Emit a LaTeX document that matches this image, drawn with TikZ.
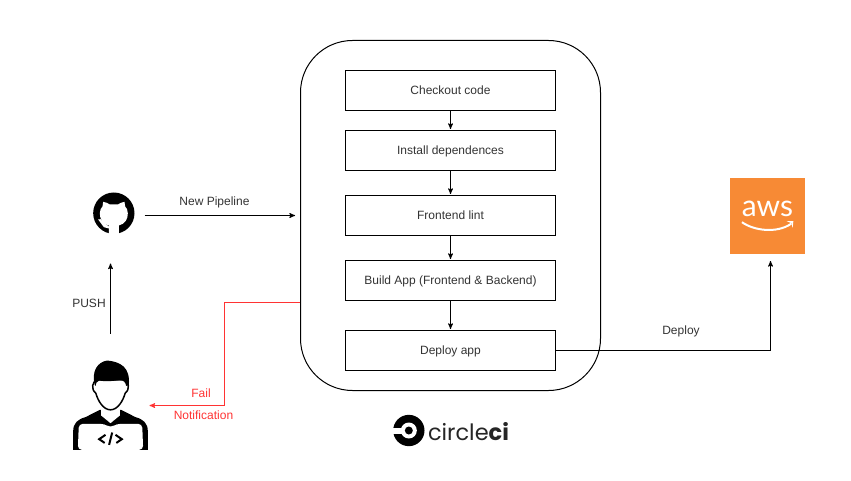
\documentclass[tikz,border=0pt]{standalone}
\usepackage{fontspec}
\setmainfont{Liberation Sans}
\newfontfamily\logofont{Poppins}
\newfontfamily\awsfont{Lato}
\usepackage{tikz}
\usetikzlibrary{arrows,calc}
\definecolor{labelgray}{HTML}{333333}
\definecolor{failred}{HTML}{FF3333}
\definecolor{awsorange}{HTML}{F78A35}

\begin{document}
\begin{tikzpicture}[>=stealth',shorten >=1pt,x=1pt,y=-1pt,line width=1pt,
  font=\fontsize{12}{14}\selectfont,text=labelgray,
  step node/.style={draw=black,minimum width=210pt,minimum height=40pt,inner sep=0pt,text height=9.5pt,text depth=1.7pt},
  logo node/.style={inner sep=0pt,outer sep=0pt},
  edge label/.style={inner sep=0pt},
  fail label/.style={inner sep=0pt,text=failred}]

  \useasboundingbox (-0.5,-0.5) rectangle (850.5,480.5);

  % pipeline
  \node[draw=black,rounded corners=52pt,minimum width=300pt,minimum height=350pt] (orb) at (450,215) {};
  \node[step node] (checkout) at (450,90) {Checkout code};
  \node[step node] (install) at (450,150) {Install dependences};
  \node[step node] (lint) at (450,215) {Frontend lint};
  \node[step node] (build) at (450,280) {Build App (Frontend \& Backend)};
  \node[step node] (deploy) at (450,350) {Deploy app};

  % logos
  \node[logo node,minimum width=63pt,minimum height=48pt] (github) at (112.5,215) {};
  \node[logo node,minimum width=76pt,minimum height=124pt] (person) at (110,395) {};
  \node[logo node,fill=awsorange,minimum size=75pt] (aws) at (767,215.5) {};

  \begin{scope}[shift={(60,170)},scale=1/3]
    \fill[black] (160,128) circle (62);
    \fill[white] (145,192) -- (145,165) .. controls (125,160) and (118,145) .. (118,128)
      .. controls (118,118) and (122,112) .. (126,108) -- (128,94)
      .. controls (136,95) and (142,98) .. (148,102) -- (172,102)
      .. controls (178,98) and (184,95) .. (192,94) -- (194,108)
      .. controls (198,112) and (202,118) .. (202,128)
      .. controls (202,145) and (195,160) .. (175,165) -- (175,192) -- cycle;
    \fill[white] (113,147) -- (120,146) -- (145,168) -- (145,174) -- (130,170) -- cycle;
  \end{scope}

  \begin{scope}[shift={(60,340)},scale=1/3]
    % body and laptop
    \fill[black] (38,328) -- (38,272) .. controls (38,248) and (52,236) .. (75,230) -- (118,208)
      -- (182,208) -- (225,230) .. controls (248,236) and (262,248) .. (262,272) -- (262,328) -- cycle;
    \fill[white] (122,200) -- (122,225) -- (150,248) -- (178,225) -- (178,200) -- cycle;
    \fill[white,rounded corners=4pt] (52,328) -- (55,250) -- (132,250) -- (150,262) -- (168,250) -- (245,250) -- (248,328) -- cycle;
    % face
    \draw[fill=white,line width=1.5pt] (108,118) .. controls (96,125) and (90,145) .. (106,158)
      .. controls (112,180) and (128,208) .. (150,208) .. controls (172,208) and (188,180) .. (194,158)
      .. controls (210,145) and (204,125) .. (192,118) -- cycle;
    % hair
    \fill[black] (103,134) .. controls (92,90) and (112,65) .. (140,60)
      .. controls (180,64) and (210,80) .. (205,134) -- (197,136)
      .. controls (195,126) and (190,119) .. (178,118) .. controls (150,124) and (125,122) .. (116,120)
      .. controls (108,122) and (106,130) .. (105,136) -- cycle;
    % code sign
    \draw[black,line width=2pt] (135,283) -- (116,296) -- (135,309);
    \draw[black,line width=2pt] (165,283) -- (184,296) -- (165,309);
    \draw[black,line width=2pt] (155,276) -- (145,316);
  \end{scope}

  \begin{scope}[shift={(380,400)},scale=1/3]
    \fill[black] (85,90) circle (47);
    \fill[white] (85,90) circle (24);
    \fill[white] (35,81) rectangle (70,99);
    \fill[black] (85,90) circle (12);
  \end{scope}
  \node[inner sep=0pt,anchor=base west,text=black!85,font=\logofont\fontsize{22.5}{24}\selectfont] (circleci) at (427,439.5) {circle{\bfseries ci}};

  \node[inner sep=0pt,text=white,font=\awsfont\fontsize{30}{30}\selectfont] (awstext) at (767,208) {aws};
  \begin{scope}[shift={(719.5,170)},scale=1/3]
    \draw[white,line width=2pt] (66,155) .. controls (100,180) and (170,190) .. (216,158);
    \fill[white] (200,152) -- (220,152) -- (218,172) -- (214,158) -- cycle;
  \end{scope}

  % labels
  \node[edge label] (pipelinelabel) at (214,202) {New Pipeline};
  \node[edge label] (pushlabel) at (88.5,303) {PUSH};
  \node[edge label] (deploylabel) at (680.5,331) {Deploy};
  \node[fail label] (faillabel) at (200.5,393) {Fail};
  \node[fail label] (notificationlabel) at (203,415) {Notification};

  \coordinate (failturn) at (224,405);

  \path[->]
    (checkout) edge (install)
    (install) edge (lint)
    (lint) edge (build)
    (build) edge (deploy)
    (github.east) edge[shorten >=5pt] (orb.west)
    (person.north -| 110,0) edge[shorten >=0pt] (110,263 -| person.north);

  \draw[->] (deploy.east) -| ([xshift=3pt,yshift=-6.5pt]aws.south);
  \draw[->,draw=failred] ([yshift=-87pt]orb.west) -| (failturn) -- (person.east |- failturn);

\end{tikzpicture}
\end{document}
